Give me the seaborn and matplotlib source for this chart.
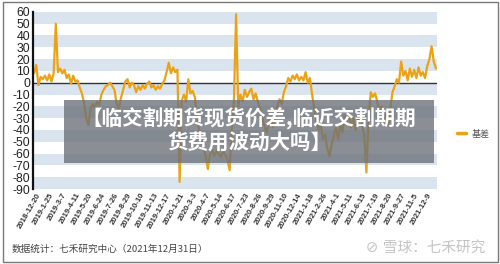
import numpy as np
import pandas as pd
import matplotlib
matplotlib.use("Agg")
import matplotlib.pyplot as plt
import seaborn as sns
from matplotlib.patches import Rectangle

# ------------------------------------------------------------------
# Data (basis, one point every ~4 trading days)
# ------------------------------------------------------------------
basis = [
    8, 15, -2, 5, 3, 6, 2, 7, 1, 8,
    50, 9, 12, 8, 11, 4, 7, -1, 6, 1,
    2, -4, -9, -17, -30, -36, -22, -18, -21, -16,
    -19, -10, -6, -3, -2, 0, -3, -6, -18, -22,
    -13, -6, 1, 3, -4, 0, -2, -8, -3, -6,
    -2, -5, -1, 1, -4, -2, -6, -3, -5, -1,
    2, 9, 17, 8, 13, 9, 11, -84, -15, -10,
    -16, 3, -9, -7, -12, -28, -40, -48, -55, -62,
    -73, -60, -57, -62, -58, -60, -63, -58, -61, -65,
    -74, -40, -15, 58, -20, -10, -16, -6, -12, -8,
    -5, -14, -9, -16, -22, -30, -36, -42, -35, -28,
    -38, -30, -20, -14, -18, -8, -3, 4, 1, 6,
    3, 7, 2, 5, 2, 9, 0, 4, -10, -22,
    -32, -40, -36, -48, -44, -56, -62, -52, -45, -38,
    -48, -35, -42, -28, -34, -25, -38, -30, -40, -32,
    -26, -35, -45, -76, -30, -8, -12, -9, -16, -24,
    -20, -32, -27, -36, -22, -8, -3, 3, 0, 18,
    6, 10, 2, 12, 5, 11, 4, 13, 6, 9,
    4, 14, 20, 31, 18, 12,
]

tick_labels = [
    "2018-12-20", "2019-1-25", "2019-3-7", "2019-4-11", "2019-5-20",
    "2019-6-24", "2019-7-26", "2019-8-29", "2019-10-10", "2019-11-13",
    "2019-12-17", "2020-1-21", "2020-3-3", "2020-4-7", "2020-5-14",
    "2020-6-17", "2020-7-23", "2020-8-26", "2020-9-29", "2020-11-10",
    "2020-12-14", "2021-1-18", "2021-2-26", "2021-4-1", "2021-5-11",
    "2021-6-15", "2021-7-19", "2021-8-20", "2021-9-27", "2021-11-5",
    "2021-12-9",
]

y_ticks = list(range(-90, 61, 10))

df = pd.DataFrame({"idx": np.arange(len(basis)), "基差": basis})

# ------------------------------------------------------------------
# Style
# ------------------------------------------------------------------
sns.set_style("white")
plt.rcParams["font.family"] = ["Liberation Sans", "Noto Sans CJK SC", "DejaVu Sans"]
CJK = ["Noto Sans CJK SC", "DejaVu Sans"]

LINE_COLOR = "#eba315"
BAND_COLOR = "#dae4ef"

fig = plt.figure(figsize=(5.0, 2.64), dpi=100)
ax = fig.add_axes([0.066, 0.284, 0.808, 0.671])

# Alternating horizontal bands
for lo in range(-90, 60, 20):
    ax.axhspan(lo, lo + 10, color=BAND_COLOR, lw=0, zorder=0)

# Zero line
ax.axhline(0, color="#333333", lw=1.0, zorder=1)

sns.lineplot(data=df, x="idx", y="基差", color=LINE_COLOR, lw=1.6,
             ax=ax, label="基差", zorder=2)

ax.set_ylim(-90, 60)
ax.set_xlim(-0.5, len(basis) - 0.5)
ax.set_yticks(y_ticks)
ax.set_yticklabels([str(v) for v in y_ticks], fontsize=8.8, color="#222222")

tick_pos = [1 + 6 * k for k in range(len(tick_labels))]
ax.set_xticks(tick_pos)
ax.set_xticklabels(tick_labels, rotation=60, ha="right", rotation_mode="anchor",
                   fontsize=5.6, fontweight="bold", color="#333333")
ax.tick_params(axis="both", length=0, pad=2)
ax.set_xlabel(""); ax.set_ylabel("")

for side in ["top", "right", "bottom"]:
    ax.spines[side].set_visible(False)
ax.spines["left"].set_color("#111111")
ax.spines["left"].set_linewidth(1.6)

# Legend at the right
leg = ax.legend(loc="center left", bbox_to_anchor=(1.03, 0.31), frameon=False,
                handlelength=1.0, handletextpad=0.6, prop={"family": CJK, "size": 6.5})
for line in leg.get_lines():
    line.set_linewidth(2.5)
for txt in leg.get_texts():
    txt.set_color("#555555")

# Title banner overlay
fig.patches.append(Rectangle((0.128, 0.383), 0.740, 0.239, transform=fig.transFigure,
                             facecolor="#6b7077", alpha=0.78, lw=0, zorder=5))
fig.text(0.498, 0.505, "【临交割期货现货价差,临近交割期期\n货费用波动大吗】",
         ha="center", va="center", color="white", fontsize=14.8, fontweight="bold",
         family=CJK, linespacing=1.2, zorder=6)

# Footer texts
fig.text(0.024, 0.057, "数据统计：七禾研究中心（2021年12月31日）",
         fontsize=6.9, color="#444444", family=CJK, va="center")
fig.text(0.97, 0.062, "⊘ 雪球：七禾研究", ha="right", va="center",
         fontsize=10.5, color="#c4c4c4", family=["DejaVu Sans", "Noto Sans CJK SC"])

# Outer frame
fig.patches.append(Rectangle((0.005, 0.008), 0.99, 0.984, transform=fig.transFigure,
                             fill=False, edgecolor="#7a7a7a", lw=1.0, zorder=10))

fig.savefig("out.png", dpi=100)
